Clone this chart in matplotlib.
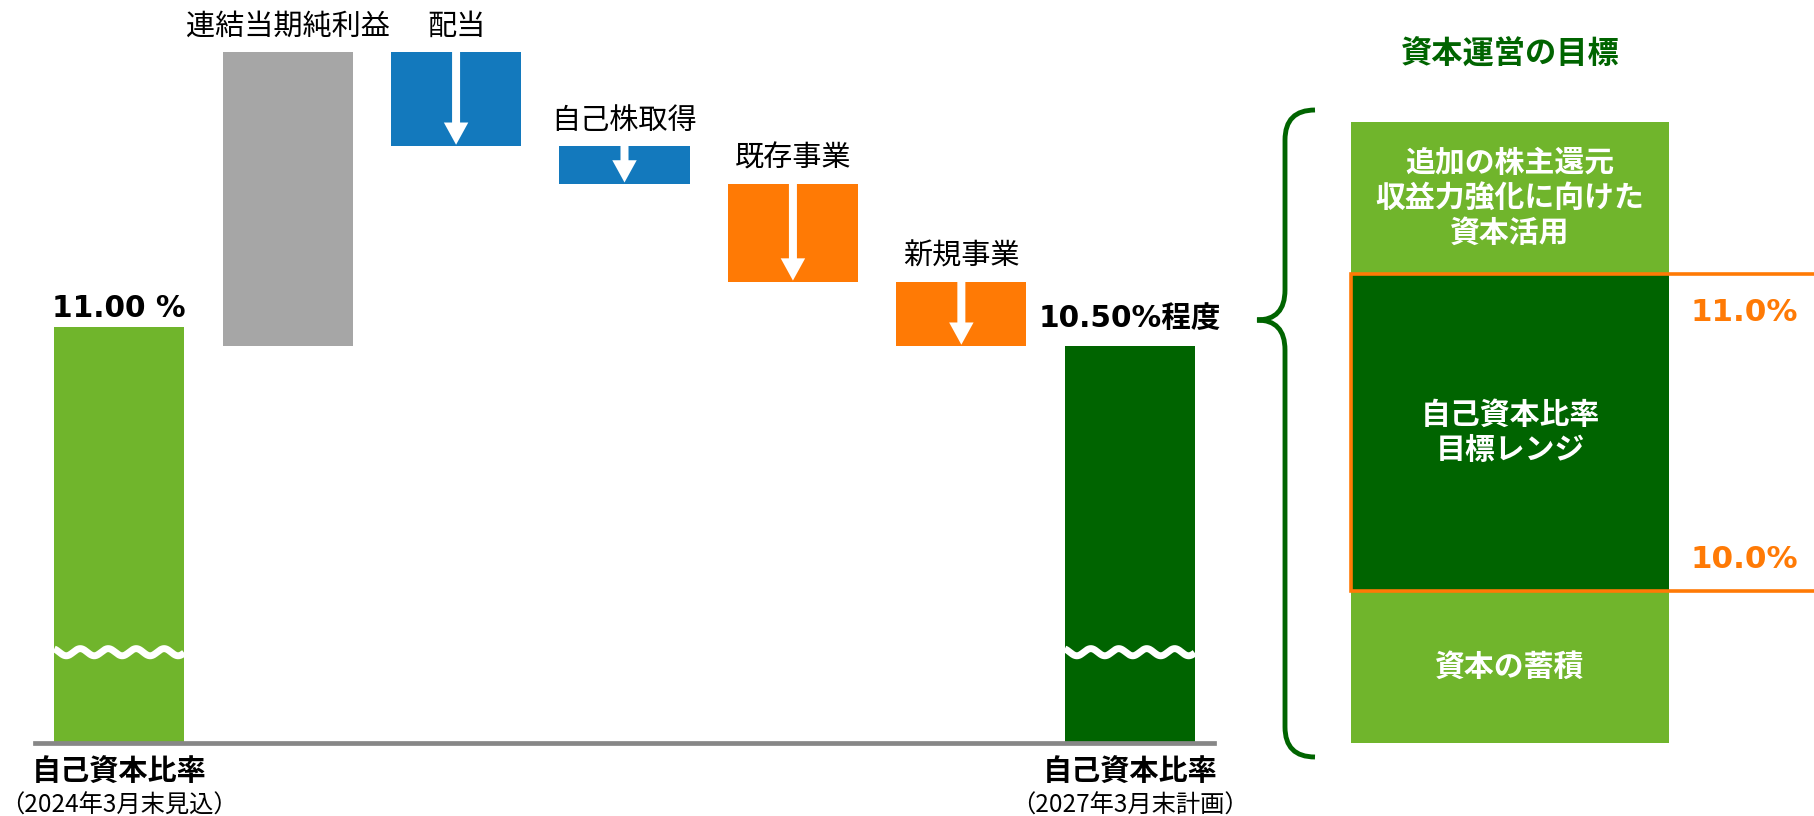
import matplotlib
matplotlib.use("Agg")
import matplotlib.pyplot as plt
from matplotlib.path import Path
from matplotlib.patches import PathPatch
import numpy as np

plt.rcParams['font.family'] = ['Noto Sans CJK JP', 'DejaVu Sans']

# ---------------- data ----------------
start_label = "11.00 %"
start_value = 11.00
end_label = "10.50%程度"
end_value = 10.50
step_labels = ["連結当期純利益", "配当", "自己株取得", "既存事業", "新規事業"]
step_deltas = [7.80, -2.50, -1.00, -2.60, -1.70]
axis_labels = ["自己資本比率", "自己資本比率"]
axis_sublabels = ["（2024年3月末見込）", "（2027年3月末計画）"]

panel_title = "資本運営の目標"
target_low = 10.0
target_high = 11.0
band_lower = 9.52
band_upper = 11.48
band_texts = ["資本の蓄積", "自己資本比率\n目標レンジ", "追加の株主還元\n収益力強化に向けた\n資本活用"]
target_labels = ["10.0%", "11.0%"]

# ---------------- style ----------------
LIGHT_GREEN = "#70B52C"
DARK_GREEN = "#006400"
GRAY = "#A6A6A6"
BLUE = "#1379BD"
ORANGE = "#FF7A05"
step_colors = [GRAY, BLUE, BLUE, ORANGE, ORANGE]
NUM_FONT = ['DejaVu Sans', 'Noto Sans CJK JP']

W, H, DPI = 1814, 816, 100
fig = plt.figure(figsize=(W / DPI, H / DPI), dpi=DPI)

# ---------------- waterfall ----------------
base_px = 742
px_per_unit = 37.73
ymax = 19.6
ax1 = fig.add_axes([35 / W, (H - base_px) / H, (1214 - 35) / W, ymax * px_per_unit / H])
ax1.set_xlim(-0.5, 6.5)
ax1.set_ylim(0, ymax)
ax1.axis('off')

bottoms = [0.0]
heights = [start_value]
colors = [LIGHT_GREEN]
running = end_value
for d, c in zip(step_deltas, step_colors):
    if d > 0:
        bottoms.append(running)
        heights.append(d)
        running += d
    else:
        running += d
        bottoms.append(running)
        heights.append(-d)
    colors.append(c)
bottoms.append(0.0)
heights.append(end_value)
colors.append(DARK_GREEN)

xs = np.arange(len(heights))
bw = 0.772
ax1.bar(xs, heights, bottom=bottoms, width=bw, color=colors, zorder=2)
ax1.axhline(-0.03, color="#878787", lw=3.4, zorder=3, clip_on=False)

# white down arrows in decreasing steps
for i, d in enumerate(step_deltas):
    if d < 0:
        x = xs[i + 1]
        top = bottoms[i + 1] + heights[i + 1]
        bot = bottoms[i + 1]
        ax1.annotate("", xy=(x, bot + 0.03), xytext=(x, top),
                     arrowprops=dict(arrowstyle="simple,head_length=1.0,head_width=1.1,tail_width=0.36",
                                     mutation_scale=16, fc="white", ec="none",
                                     shrinkA=0, shrinkB=0), zorder=4)

# step labels
for i, lab in enumerate(step_labels):
    x = xs[i + 1]
    top = bottoms[i + 1] + heights[i + 1]
    ax1.annotate(lab, xy=(x, top), xytext=(0, 18), textcoords="offset points",
                 ha="center", va="center", fontsize=21, color="black")

# start / end labels
ax1.annotate(start_label, xy=(xs[0], start_value), xytext=(0, 13.5), textcoords="offset points",
             ha="center", va="center", fontsize=21.3, fontweight="bold", family=NUM_FONT)
ax1.annotate(end_label, xy=(xs[-1], end_value), xytext=(0, 20), textcoords="offset points",
             ha="center", va="center", fontsize=21.3, fontweight="bold", family=NUM_FONT)

# break marks
ybreak = 2.38
for xi in (xs[0], xs[-1]):
    wx = np.linspace(xi - bw / 2, xi + bw / 2, 300)
    wy = ybreak + 0.095 * np.sin(2 * np.pi * (wx - (xi - bw / 2)) / 0.166 + 2.0)
    ax1.plot(wx, wy, color="white", lw=5, zorder=3, solid_capstyle="butt")

# bottom labels
for xi, lab, sub in zip((xs[0], xs[-1]), axis_labels, axis_sublabels):
    ax1.annotate(lab, xy=(xi, 0), xytext=(0, -21.6), textcoords="offset points",
                 ha="center", va="center", fontsize=21, fontweight="bold", annotation_clip=False)
    ax1.annotate(sub, xy=(xi, 0), xytext=(0, -45.5), textcoords="offset points",
                 ha="center", va="center", fontsize=17.5, annotation_clip=False)

# ---------------- right panel ----------------
ax2 = fig.add_axes([0, 0, 1, 1])
ax2.patch.set_alpha(0)
ax2.axis('off')
ppu = 317.0  # px per percentage point in panel
ax2.set_xlim(0, W)
ax2.set_ylim(target_low - (H - 591) / ppu, target_low + 591 / ppu)


def v(py):
    return target_low + (591 - py) / ppu


box_cx, box_w = 1510, 318
band_bottoms = [band_lower, target_low, target_high]
band_tops = [target_low, target_high, band_upper]
band_colors = [LIGHT_GREEN, DARK_GREEN, LIGHT_GREEN]
ax2.bar([box_cx] * 3, [t - b for t, b in zip(band_tops, band_bottoms)], bottom=band_bottoms,
        width=box_w, color=band_colors, zorder=1)
for b, t, txt in zip(band_bottoms, band_tops, band_texts):
    ax2.text(box_cx, (b + t) / 2, txt, ha="center", va="center", fontsize=21.5, fontweight="bold",
             color="white", linespacing=1.22, zorder=3)

# orange target range outline
xl = box_cx - box_w / 2
ax2.plot([W + 10, xl, xl, W + 10], [target_high, target_high, target_low, target_low],
         color=ORANGE, lw=2.6, solid_joinstyle="miter", zorder=4)
ax2.annotate(target_labels[1], xy=(1744, target_high), xytext=(0, -27.5), textcoords="offset points",
             ha="center", va="center", fontsize=22.3, fontweight="bold", color=ORANGE, family=NUM_FONT)
ax2.annotate(target_labels[0], xy=(1744, target_low), xytext=(0, 22.5), textcoords="offset points",
             ha="center", va="center", fontsize=22.3, fontweight="bold", color=ORANGE, family=NUM_FONT)

# title
ax2.annotate(panel_title, xy=(box_cx, band_upper), xytext=(0, 49), textcoords="offset points",
             ha="center", va="center", fontsize=22.5, fontweight="bold", color=DARK_GREEN)

# curly brace
bx_end, bx_line, bx_tip = 1315, 1285, 1257
by_top, by_tip, by_bot = 110, 320, 757
r = 30
pts = [
    (bx_end, by_top),
    (bx_line, by_top), (bx_line, by_top + r),
    (bx_line, by_tip - r),
    (bx_line, by_tip), (bx_tip, by_tip),
    (bx_line, by_tip), (bx_line, by_tip + r),
    (bx_line, by_bot - r),
    (bx_line, by_bot), (bx_end, by_bot),
]
codes = [Path.MOVETO, Path.CURVE3, Path.CURVE3, Path.LINETO, Path.CURVE3, Path.CURVE3,
         Path.CURVE3, Path.CURVE3, Path.LINETO, Path.CURVE3, Path.CURVE3]
brace = Path([(px, v(py)) for px, py in pts], codes)
ax2.add_patch(PathPatch(brace, fill=False, ec=DARK_GREEN, lw=3.5, capstyle="butt", zorder=2))

fig.savefig("out.png", dpi=DPI)
